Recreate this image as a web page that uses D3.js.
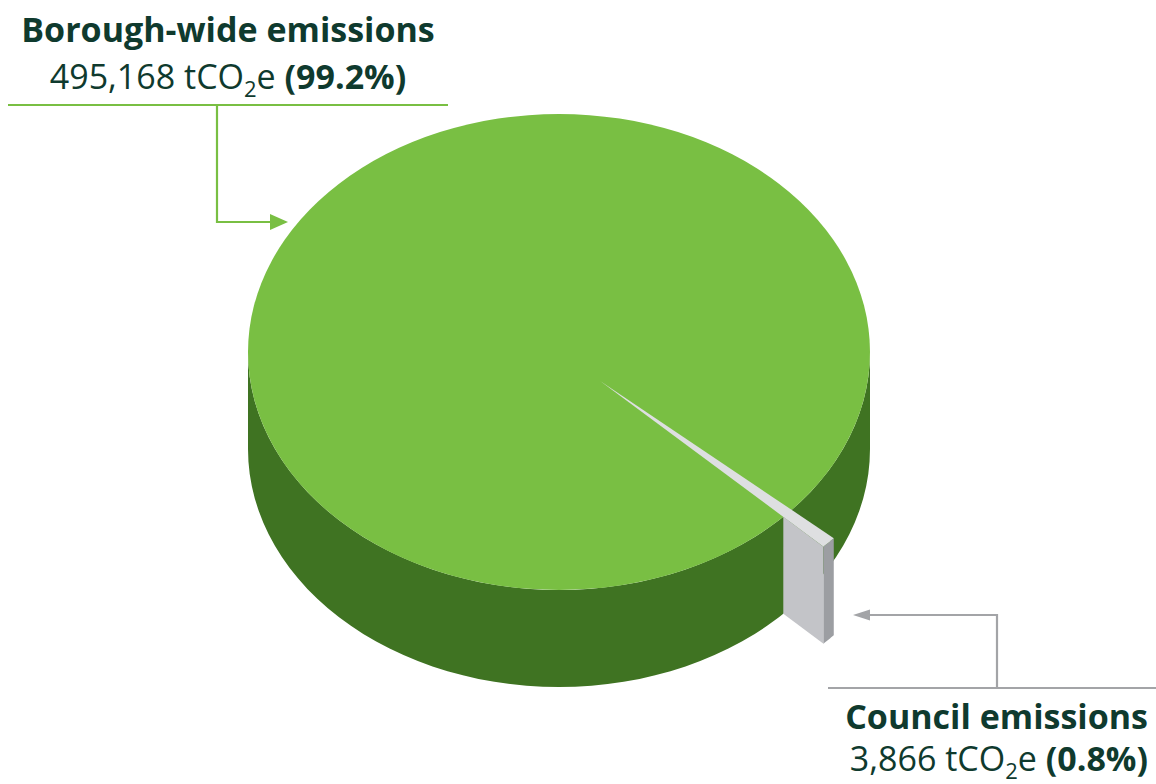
<!DOCTYPE html>
<html>
<head>
<meta charset="utf-8">
<script src="https://cdn.jsdelivr.net/npm/d3@7"></script>
<style>
  html, body { margin: 0; padding: 0; background: #fff; }
  svg { display: block; }
  text { font-family: "Open Sans", "Noto Sans", sans-serif; fill: #0f3a2e; }
</style>
</head>
<body>
<svg id="chart" width="1156" height="784"></svg>
<script>
// data
const categories = ["Borough-wide emissions", "Council emissions"];
const values = [495168, 3866];
const shares = ["99.2%", "0.8%"];

const width = 1156, height = 784;
const cx = 559, cy = 352, rx = 311, ry = 238, depth = 97;
const explode = 0.18;

const green = "#79bf43", greenSide = "#3f7322";
const greyTop = "#dedfe1", greyFace = "#c3c4c8", greyEdge = "#9c9ea2";

const svg = d3.select("#chart");

// slice angles from d3.pie, rotated so the council slice points to the front right
const councilMid = (132.7 * Math.PI) / 180;
const total = d3.sum(values);
const start = councilMid - 2 * Math.PI * (values[0] + values[1] / 2) / total;
const arcs = d3.pie().sort(null).startAngle(start).endAngle(start + 2 * Math.PI)(values);
const council = arcs[1];

// pie angle (0 = 12 o'clock, clockwise) -> projected point
const x = d3.scaleLinear().domain([-1, 1]).range([cx - rx, cx + rx]);
const y = d3.scaleLinear().domain([-1, 1]).range([cy - ry, cy + ry]);
const pt = (a, r = 1, ox = 0, oy = 0, dz = 0) => [
  x(ox + r * Math.sin(a)),
  y(oy - r * Math.cos(a)) + dz
];
const arcPts = (a0, a1, ox, oy, dz, n = 60) =>
  d3.range(n + 1).map((i) => pt(a0 + (a1 - a0) * i / n, 1, ox, oy, dz));
const line = d3.line();

// cylinder side (front half)
const side = arcPts(Math.PI / 2, 3 * Math.PI / 2, 0, 0, 0)
  .concat(arcPts(3 * Math.PI / 2, Math.PI / 2, 0, 0, depth));
svg.append("path").attr("d", line(side) + "Z").attr("fill", greenSide);

// cylinder top
svg.append("ellipse")
  .attr("cx", x(0)).attr("cy", y(0))
  .attr("rx", x(1) - x(0)).attr("ry", y(1) - y(0))
  .attr("fill", green);

// exploded council wedge
const mid = (council.startAngle + council.endAngle) / 2;
const ox = explode * Math.sin(mid), oy = -explode * Math.cos(mid);
const a1 = council.endAngle;
// where the trailing radial edge leaves the cylinder
const cd = Math.cos(a1 - mid);
const s0 = -explode * cd + Math.sqrt(explode * explode * cd * cd - explode * explode + 1);
const inner = pt(a1, s0, ox, oy), outer = pt(a1, 1, ox, oy);
svg.append("path")
  .attr("d", line([inner, outer, [outer[0], outer[1] + depth], [inner[0], inner[1] + depth]]) + "Z")
  .attr("fill", greyFace);

const rim = arcPts(council.startAngle, council.endAngle, ox, oy, 0, 8)
  .concat(arcPts(council.endAngle, council.startAngle, ox, oy, depth, 8));
svg.append("path").attr("d", line(rim) + "Z").attr("fill", greyEdge);

const topFace = [pt(0, 0, ox, oy)].concat(arcPts(council.startAngle, council.endAngle, ox, oy, 0, 8));
svg.append("path").attr("d", line(topFace) + "Z").attr("fill", greyTop);

// callouts
const callout = (pts, colour, head) => {
  svg.append("path").attr("d", line(pts)).attr("fill", "none")
    .attr("stroke", colour).attr("stroke-width", 2.2);
  svg.append("path").attr("d", line(head) + "Z").attr("fill", colour);
};
callout([[8, 105], [448, 105]], green, []);
callout([[217, 105], [217, 222], [272, 222]], green, [[270, 214], [288, 222], [270, 230]]);
callout([[828, 688], [1156, 688]], "#a3a4a7", []);
callout([[997, 688], [997, 615], [868, 615]], "#a3a4a7", [[870, 609.5], [853, 615], [870, 620.5]]);

const label = (tx, ty, anchor, i, gap) => {
  const g = svg.append("g").attr("text-anchor", anchor);
  g.append("text").attr("x", tx).attr("y", ty)
    .attr("font-size", 34).attr("font-weight", 700).text(categories[i]);
  const t = g.append("text").attr("x", tx).attr("y", ty + gap).attr("font-size", 34);
  t.append("tspan").text(d3.format(",")(values[i]) + " tCO");
  t.append("tspan").attr("font-size", 22).attr("dy", 8).text("2");
  t.append("tspan").attr("dy", -8).text("e ");
  t.append("tspan").attr("font-weight", 700).text("(" + shares[i] + ")");
};
label(228, 42, "middle", 0, 47);
label(1148, 729, "end", 1, 42);
</script>
</body>
</html>
